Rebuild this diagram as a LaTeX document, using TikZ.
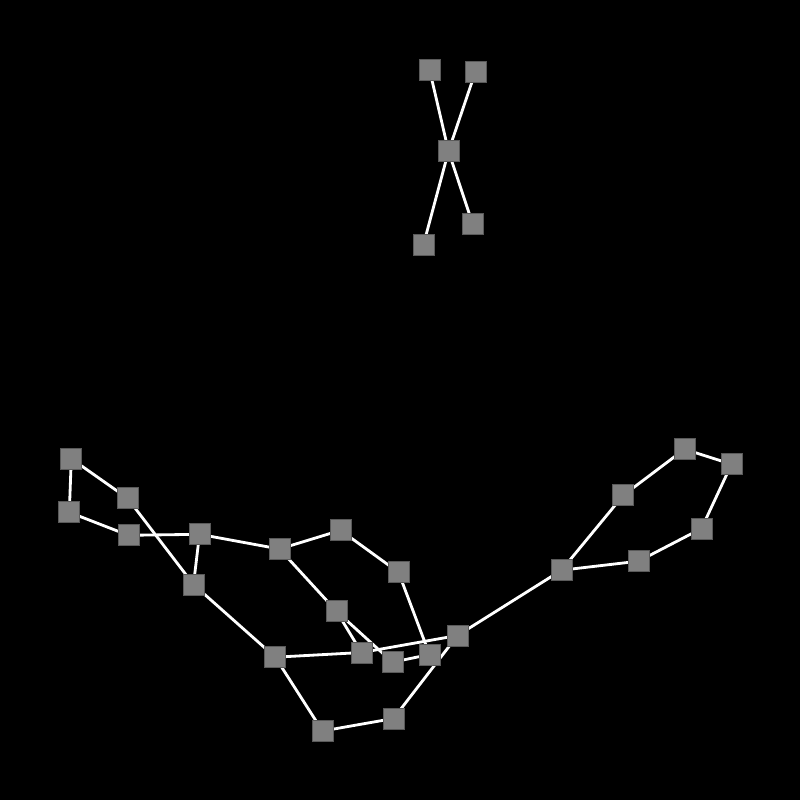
\documentclass[tikz,border=0pt]{standalone}
\usetikzlibrary{backgrounds}
\begin{document}
\begin{tikzpicture}[x=0.01cm,y=-0.01cm,
    vert/.style={rectangle,fill={rgb,255:red,128;green,128;blue,128},draw={rgb,255:red,90;green,90;blue,90},line width=0.2pt,minimum size=0.21cm,inner sep=0pt},
    link/.style={white,line width=0.8pt}]
    \useasboundingbox (0,0) rectangle (800,800);

    % upper star
    \node[vert] (t1) at (429.5,69.5) {};
    \node[vert] (t2) at (475.5,71.5) {};
    \node[vert] (t3) at (448.5,151.2) {};
    \node[vert] (t4) at (472.5,223.5) {};
    \node[vert] (t5) at (423.5,244.5) {};

    % lower component
    \node[vert] (b1) at (71.3,458.7) {};
    \node[vert] (b2) at (69.3,512.3) {};
    \node[vert] (b3) at (127.5,498.2) {};
    \node[vert] (b4) at (128.5,535.3) {};
    \node[vert] (b5) at (199.5,534.3) {};
    \node[vert] (b6) at (193.5,584.5) {};
    \node[vert] (b7) at (279.5,549.0) {};
    \node[vert] (b8) at (340.5,530.3) {};
    \node[vert] (b9) at (398.5,572.3) {};
    \node[vert] (b10) at (336.5,611.2) {};
    \node[vert] (b11) at (361.5,652.5) {};
    \node[vert] (b12) at (392.5,662.2) {};
    \node[vert] (b13) at (429.5,654.5) {};
    \node[vert] (b14) at (457.5,635.5) {};
    \node[vert] (b15) at (275.3,657.2) {};
    \node[vert] (b16) at (322.5,731.0) {};
    \node[vert] (b17) at (393.5,718.5) {};
    \node[vert] (b18) at (561.5,570.2) {};
    \node[vert] (b19) at (623.3,495.3) {};
    \node[vert] (b20) at (684.5,449.2) {};
    \node[vert] (b21) at (731.5,464.2) {};
    \node[vert] (b22) at (701.5,528.5) {};
    \node[vert] (b23) at (638.5,561.2) {};

    \begin{scope}[on background layer]
    \fill[black] (0,0) rectangle (800,800);
    \foreach \a/\b in {t1/t3,t2/t3,t3/t4,t3/t5,
        b1/b2,b1/b3,b2/b4,b4/b5,b3/b6,b5/b6,b5/b7,b7/b8,b8/b9,b9/b13,
        b7/b10,b10/b11,b10/b12,b12/b13,b6/b15,b15/b11,b11/b14,b15/b16,
        b16/b17,b17/b14,b14/b18,b18/b19,b19/b20,b20/b21,b21/b22,b22/b23,b23/b18}{
    \draw[link] (\a.center) -- (\b.center);
    }
    \end{scope}
\end{tikzpicture}
\end{document}
